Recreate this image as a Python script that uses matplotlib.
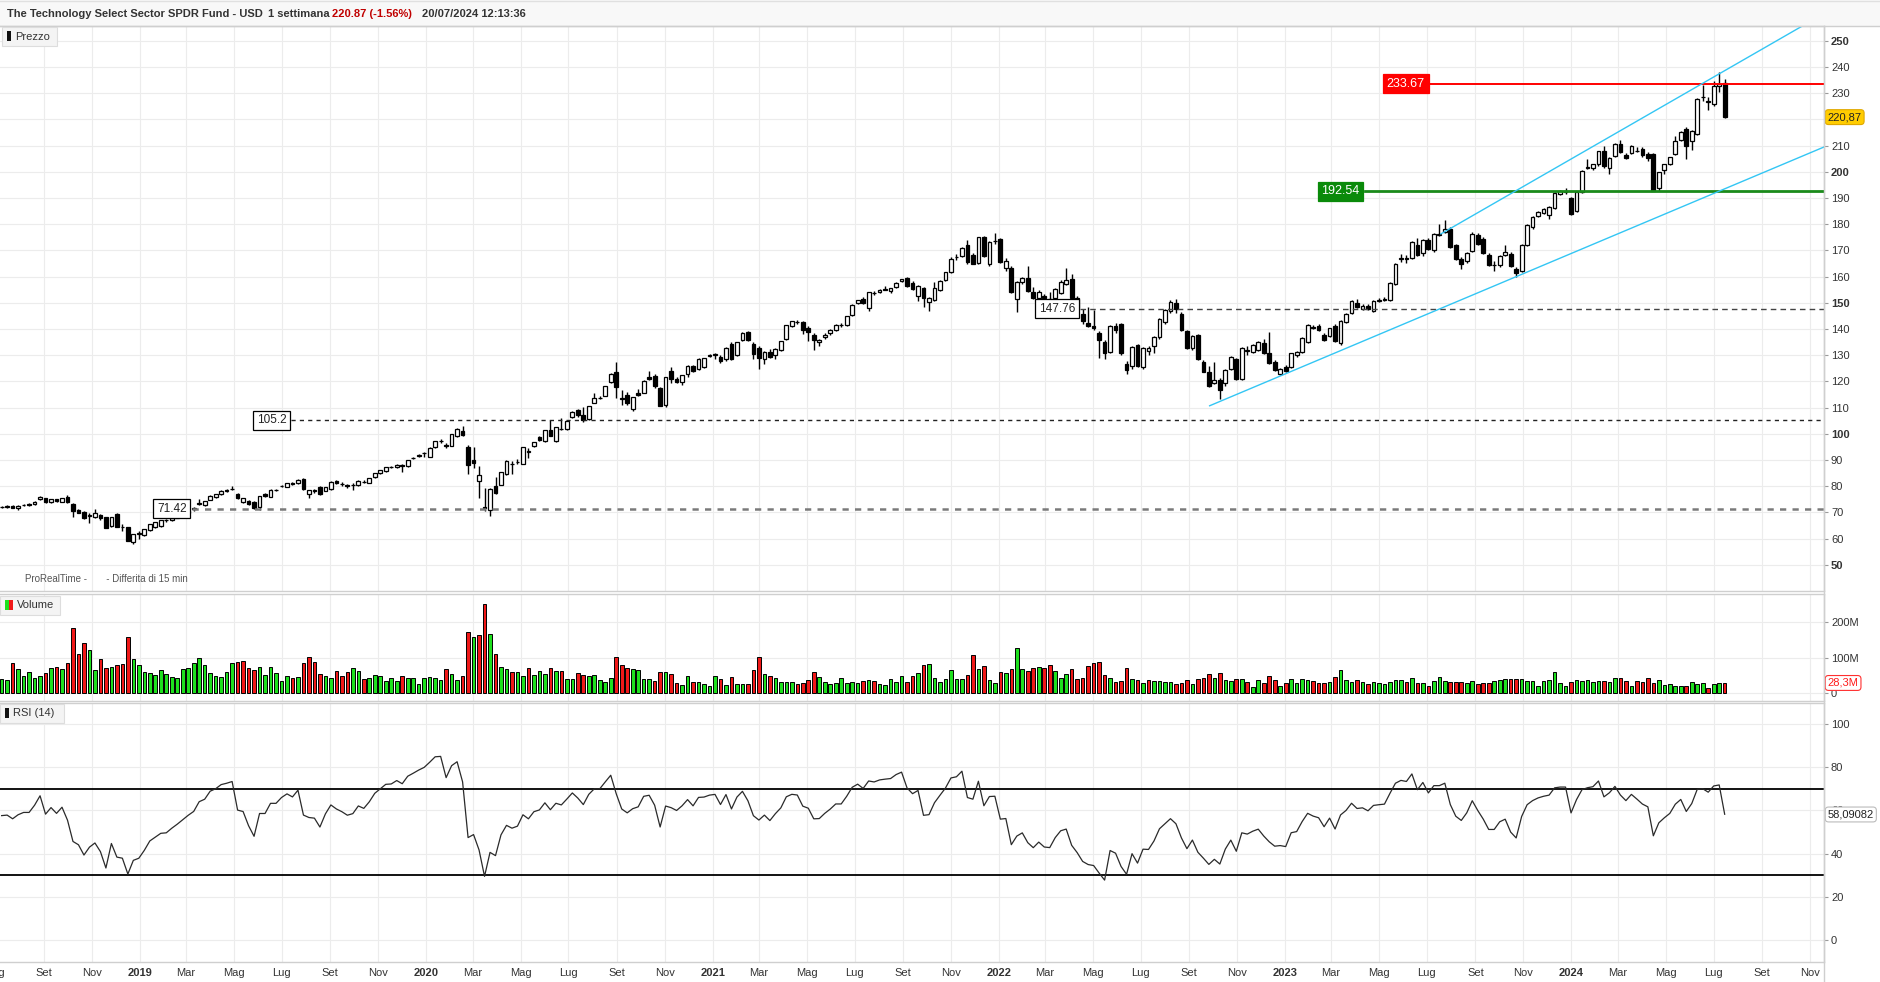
"""
Weekly candlestick chart of XLK with volume and RSI panels, ProRealTime style.
"""
from __future__ import annotations

import datetime as dt

import matplotlib

matplotlib.use("Agg")
import matplotlib.pyplot as plt
from matplotlib.lines import Line2D
from matplotlib.patches import Rectangle
from matplotlib.transforms import blended_transform_factory

plt.rcParams["font.family"] = ["Liberation Sans", "DejaVu Sans"]

W, H = 1880, 982
START = dt.date(2018, 7, 9)  # monday of the first weekly candle

OPENS = [
    72.0, 72.2, 72.5, 71.8, 72.8, 73.3, 73.3, 75.1, 75.4, 73.8,
    75.0, 74.1, 75.7, 73.3, 70.8, 70.3, 68.8, 68.4, 69.0, 68.1,
    64.8, 69.5, 64.4, 64.3, 58.6, 61.6, 61.4, 63.2, 64.6, 64.8,
    67.0, 67.1, 68.0, 68.8, 69.7, 71.8, 73.3, 72.8, 74.9, 75.7,
    76.9, 78.3, 78.8, 76.9, 74.1, 74.2, 74.0, 72.1, 76.9, 76.0,
    78.4, 80.0, 79.8, 81.3, 81.1, 82.6, 76.9, 78.2, 79.7, 78.3,
    78.8, 82.1, 80.8, 80.3, 80.4, 80.3, 81.6, 81.3, 83.4, 85.0,
    85.7, 87.2, 87.2, 88.0, 87.6, 90.6, 91.6, 92.6, 91.3, 94.8,
    97.2, 95.7, 95.4, 99.0, 101.1, 94.8, 90.1, 81.9, 72.0, 70.9,
    79.9, 80.6, 84.7, 88.6, 89.3, 88.6, 93.2, 95.4, 98.6, 97.3,
    101.3, 97.3, 101.8, 101.8, 106.5, 109.0, 107.0, 105.7, 111.9, 113.6,
    114.6, 119.6, 123.7, 113.5, 115.0, 109.6, 115.7, 115.7, 121.8, 122.0,
    117.3, 111.0, 124.0, 120.9, 119.9, 122.7, 125.9, 124.6, 125.5, 129.7,
    130.2, 129.4, 128.4, 134.3, 130.0, 135.8, 138.9, 134.4, 132.8, 128.7,
    131.3, 130.0, 131.9, 136.1, 141.1, 142.5, 142.7, 140.4, 137.8, 135.1,
    136.9, 138.6, 139.7, 141.4, 141.4, 145.4, 149.9, 151.5, 148.0, 153.6,
    154.2, 155.0, 154.4, 156.0, 158.2, 159.4, 157.6, 152.7, 155.5, 150.4,
    151.0, 154.8, 158.7, 161.6, 167.3, 167.9, 171.9, 168.2, 165.3, 175.2,
    164.8, 173.4, 174.2, 163.4, 163.4, 151.4, 158.0, 159.5, 154.2, 151.7,
    152.6, 151.0, 151.7, 153.8, 157.3, 159.0, 151.7, 145.9, 142.4, 141.3,
    138.3, 134.9, 131.3, 141.1, 141.9, 126.8, 125.8, 133.8, 125.6, 131.7,
    133.5, 137.0, 142.7, 146.8, 150.1, 145.9, 139.2, 132.8, 137.7, 127.5,
    123.4, 119.5, 120.7, 119.5, 124.9, 128.4, 121.1, 131.6, 131.3, 131.9,
    134.5, 130.9, 127.5, 123.0, 125.6, 125.6, 130.0, 131.3, 135.1, 140.6,
    141.1, 137.9, 137.4, 141.1, 134.5, 142.7, 146.2, 150.0, 147.8, 148.9,
    147.0, 150.8, 151.2, 151.0, 157.2, 166.8, 167.1, 167.1, 171.9, 169.0,
    173.9, 170.3, 176.0, 176.9, 178.2, 171.9, 166.7, 165.8, 169.7, 175.7,
    174.5, 168.1, 164.6, 164.3, 168.3, 168.5, 162.9, 162.3, 171.9, 178.8,
    183.1, 184.3, 183.7, 186.2, 191.6, 192.4, 190.0, 185.0, 192.3, 201.6,
    201.5, 202.8, 207.8, 201.5, 206.2, 210.6, 206.6, 207.2, 208.0, 208.7,
    206.8, 206.8, 193.8, 200.8, 203.1, 206.8, 212.0, 216.5, 211.6, 214.6,
    228.6, 226.5, 225.9, 232.9, 233.8,
]

HIGHS = [
    72.6, 72.7, 72.8, 72.7, 73.3, 73.6, 74.3, 76.1, 75.6, 75.2,
    75.3, 75.6, 76.5, 73.5, 71.3, 70.6, 69.9, 71.2, 69.4, 68.3,
    68.4, 69.8, 65.5, 64.6, 61.8, 62.8, 63.7, 65.6, 66.4, 67.2,
    67.5, 68.2, 69.0, 69.9, 70.9, 72.1, 75.0, 74.4, 76.5, 77.2,
    78.4, 78.9, 79.9, 77.3, 75.6, 74.6, 74.3, 76.3, 77.4, 78.8,
    79.0, 80.4, 81.3, 81.6, 82.7, 83.0, 78.7, 78.9, 80.2, 79.8,
    81.9, 82.4, 81.5, 81.0, 81.3, 82.2, 82.3, 83.2, 85.1, 86.3,
    87.4, 87.7, 88.4, 88.5, 90.1, 91.2, 92.2, 93.2, 94.8, 97.3,
    97.9, 96.6, 100.1, 102.1, 102.8, 95.6, 94.8, 87.6, 79.4, 79.2,
    83.5, 85.5, 89.9, 89.5, 90.2, 95.0, 94.4, 97.0, 99.2, 101.6,
    105.2, 102.7, 105.9, 105.2, 108.6, 109.6, 110.4, 110.7, 115.7, 114.3,
    118.3, 123.2, 127.5, 116.6, 115.8, 114.2, 117.2, 120.5, 124.1, 122.8,
    118.0, 121.7, 125.4, 121.6, 122.6, 126.1, 126.4, 128.9, 129.1, 130.5,
    130.9, 130.2, 133.0, 135.0, 135.2, 138.8, 139.3, 135.0, 133.5, 131.5,
    132.3, 132.7, 135.5, 141.6, 143.1, 143.4, 143.1, 141.0, 138.4, 136.3,
    138.3, 139.9, 141.8, 142.2, 145.0, 149.4, 151.2, 152.2, 154.2, 154.5,
    155.2, 156.3, 155.8, 157.8, 159.2, 160.0, 158.3, 156.7, 156.2, 152.3,
    158.0, 158.8, 161.8, 167.6, 168.8, 171.3, 174.0, 169.0, 175.3, 175.6,
    173.6, 176.8, 174.6, 167.0, 163.9, 158.3, 159.9, 163.9, 156.0, 155.0,
    153.5, 154.3, 155.5, 158.7, 163.4, 161.1, 152.5, 147.7, 148.5, 147.3,
    139.2, 135.7, 141.6, 142.3, 142.4, 127.9, 133.6, 134.4, 133.2, 133.6,
    137.4, 144.3, 147.6, 150.9, 151.6, 146.4, 139.7, 137.6, 138.1, 128.0,
    125.7, 127.5, 121.2, 124.6, 129.7, 129.0, 133.2, 133.6, 134.1, 135.4,
    136.2, 138.9, 128.3, 125.0, 126.2, 131.0, 131.6, 137.0, 141.8, 141.7,
    141.9, 138.6, 140.5, 141.8, 143.4, 146.2, 151.0, 151.5, 149.4, 149.4,
    151.1, 152.0, 152.3, 157.9, 165.1, 168.5, 168.4, 173.4, 174.9, 174.4,
    174.6, 176.6, 180.0, 181.5, 178.9, 172.5, 167.5, 169.5, 177.0, 176.8,
    175.2, 168.9, 166.1, 168.4, 172.0, 169.2, 163.5, 172.3, 180.0, 183.0,
    185.0, 186.2, 187.0, 192.3, 193.0, 193.8, 190.5, 192.6, 200.5, 205.0,
    203.1, 208.1, 210.0, 205.6, 210.9, 212.0, 207.2, 210.1, 209.3, 209.3,
    207.4, 207.2, 200.1, 203.1, 205.8, 213.6, 215.4, 217.0, 215.8, 228.1,
    233.0, 228.4, 234.5, 238.1, 235.5,
]

LOWS = [
    71.6, 71.7, 71.5, 70.9, 72.4, 72.6, 73.0, 74.9, 73.6, 73.4,
    74.1, 73.9, 73.6, 68.4, 69.6, 67.4, 66.1, 67.9, 67.1, 64.0,
    64.3, 64.4, 63.0, 58.9, 57.8, 59.7, 61.1, 62.9, 64.2, 64.6,
    66.5, 66.8, 67.7, 68.5, 69.3, 70.6, 72.9, 72.5, 74.7, 75.5,
    76.6, 77.9, 78.4, 75.2, 73.6, 73.0, 71.3, 70.8, 75.8, 75.8,
    78.0, 79.6, 79.6, 80.5, 80.9, 78.7, 75.6, 77.3, 76.8, 78.0,
    78.6, 80.9, 80.2, 79.5, 78.5, 80.1, 81.2, 81.1, 83.2, 84.8,
    85.5, 86.8, 87.0, 85.6, 87.4, 90.2, 91.2, 91.2, 91.1, 94.6,
    96.6, 94.5, 95.2, 98.8, 99.2, 84.8, 87.1, 75.4, 70.5, 68.7,
    77.0, 80.3, 84.4, 84.7, 88.3, 88.4, 90.9, 95.1, 97.4, 97.0,
    99.0, 97.0, 101.4, 101.5, 106.2, 106.4, 104.6, 105.4, 111.6, 113.2,
    114.4, 119.3, 113.5, 110.9, 111.0, 108.6, 114.3, 115.4, 120.5, 117.6,
    110.5, 110.3, 119.5, 119.3, 118.6, 121.8, 123.4, 124.3, 125.2, 129.3,
    128.5, 127.2, 127.8, 128.2, 129.6, 135.5, 135.3, 128.7, 124.8, 126.5,
    129.0, 128.5, 131.5, 135.8, 140.8, 141.9, 138.2, 135.3, 131.8, 133.4,
    136.0, 137.8, 139.3, 140.9, 141.0, 145.0, 149.4, 149.4, 146.8, 153.0,
    153.6, 154.7, 153.6, 155.7, 157.9, 156.0, 155.0, 150.6, 148.5, 146.9,
    150.6, 154.4, 158.3, 161.2, 166.5, 167.4, 164.8, 164.7, 164.9, 167.5,
    164.2, 172.6, 165.3, 162.0, 153.8, 146.6, 157.2, 154.2, 151.4, 146.5,
    146.8, 146.4, 146.6, 153.2, 156.9, 151.3, 147.0, 141.8, 140.6, 139.5,
    128.8, 128.4, 130.8, 138.4, 130.2, 123.0, 124.8, 125.4, 124.6, 130.2,
    130.7, 136.3, 141.8, 146.2, 146.2, 139.4, 132.3, 132.0, 128.1, 123.4,
    117.9, 119.0, 113.2, 118.4, 124.5, 120.6, 120.4, 130.1, 130.9, 131.6,
    130.5, 126.8, 123.9, 122.4, 123.6, 125.2, 129.5, 130.8, 134.7, 139.9,
    139.1, 135.4, 136.8, 134.9, 134.0, 142.3, 145.8, 148.0, 147.2, 147.3,
    146.6, 150.3, 150.5, 150.6, 156.8, 165.7, 165.3, 166.7, 167.9, 168.0,
    170.2, 169.5, 175.6, 176.5, 170.8, 166.3, 163.0, 165.2, 169.3, 172.1,
    168.6, 163.9, 162.0, 163.8, 168.0, 163.5, 160.0, 161.8, 171.5, 178.3,
    182.6, 183.8, 182.0, 185.8, 191.2, 191.5, 183.4, 184.6, 191.9, 200.9,
    200.8, 202.4, 201.6, 199.0, 205.8, 207.0, 204.8, 206.8, 207.5, 205.8,
    204.2, 192.5, 192.8, 199.0, 202.7, 206.4, 211.6, 205.0, 208.5, 214.2,
    226.9, 223.7, 225.2, 230.6, 220.6,
]

CLOSES = [
    72.2, 72.3, 71.8, 72.5, 72.9, 72.9, 74.1, 75.9, 73.8, 75.0,
    74.3, 75.4, 73.8, 70.5, 69.9, 67.9, 69.0, 69.6, 68.0, 64.2,
    68.1, 64.6, 64.3, 59.1, 61.6, 62.0, 63.5, 65.4, 66.2, 67.0,
    67.1, 68.0, 68.8, 69.7, 70.6, 71.4, 73.6, 74.2, 76.3, 77.0,
    78.2, 78.6, 79.1, 75.6, 75.4, 73.3, 71.5, 76.1, 76.1, 78.6,
    78.6, 80.1, 81.1, 80.7, 82.5, 78.9, 78.5, 78.4, 77.0, 79.6,
    81.7, 81.1, 80.7, 80.2, 80.5, 82.0, 81.7, 83.0, 84.9, 86.0,
    87.2, 87.3, 88.2, 87.9, 89.9, 90.8, 91.8, 92.7, 94.6, 97.1,
    97.3, 95.3, 99.9, 101.9, 99.4, 88.2, 89.0, 84.2, 71.5, 79.0,
    77.3, 85.3, 89.7, 88.5, 89.4, 94.8, 93.3, 96.8, 97.7, 101.4,
    99.2, 102.5, 102.0, 105.0, 108.4, 107.0, 105.2, 110.5, 113.8, 113.8,
    118.1, 123.0, 118.0, 113.2, 111.9, 113.9, 114.8, 120.3, 120.9, 118.1,
    110.8, 121.5, 120.9, 119.9, 122.4, 125.9, 123.9, 128.7, 128.9, 130.0,
    130.4, 127.7, 132.8, 128.6, 135.0, 138.6, 135.7, 130.6, 129.0, 131.3,
    129.4, 132.5, 135.3, 141.4, 142.9, 142.7, 139.5, 138.9, 135.7, 135.8,
    137.8, 139.5, 141.6, 141.6, 144.8, 149.2, 150.9, 150.0, 154.0, 153.8,
    154.9, 155.3, 155.6, 157.6, 158.9, 156.3, 155.3, 156.5, 151.7, 151.9,
    155.7, 158.5, 161.6, 166.9, 167.6, 171.1, 165.4, 165.0, 175.0, 167.9,
    173.3, 173.5, 165.6, 165.9, 154.1, 158.0, 159.5, 154.6, 151.9, 154.2,
    151.7, 151.4, 155.2, 158.0, 158.7, 151.7, 148.0, 143.0, 141.1, 140.5,
    135.8, 130.7, 141.2, 139.6, 130.7, 124.3, 133.2, 125.8, 132.8, 132.6,
    137.0, 144.0, 147.2, 150.4, 147.8, 139.8, 132.6, 137.3, 128.5, 123.7,
    118.2, 120.7, 116.7, 124.3, 129.4, 121.1, 132.8, 131.9, 133.8, 135.1,
    130.9, 127.2, 124.3, 124.6, 124.0, 130.7, 131.3, 136.6, 141.5, 140.3,
    139.6, 135.8, 140.2, 135.4, 143.1, 145.9, 150.6, 148.5, 148.9, 147.8,
    150.8, 151.2, 151.5, 157.6, 164.8, 167.1, 166.8, 173.1, 168.4, 174.1,
    170.7, 176.3, 176.3, 178.2, 171.2, 166.7, 165.0, 169.0, 176.4, 172.6,
    169.0, 164.3, 164.3, 168.0, 169.3, 163.9, 161.2, 171.9, 179.6, 182.6,
    184.6, 185.8, 186.6, 192.0, 192.6, 192.6, 183.9, 192.3, 200.2, 201.9,
    202.8, 207.8, 202.1, 205.3, 210.6, 207.4, 205.3, 209.8, 208.1, 206.3,
    205.3, 192.8, 199.8, 202.8, 205.5, 211.6, 215.1, 210.0, 215.5, 227.8,
    228.4, 227.0, 232.7, 233.67, 220.87,
]

# weekly volume, millions of shares
VOLUMES_M = [
    40,
    37, 84, 67, 49, 59, 42, 49, 56, 70, 73,
    67, 84, 182, 110, 140, 121, 65, 95, 70, 73,
    78, 81, 157, 95, 79, 59, 56, 50, 64, 53,
    45, 42, 67, 70, 84, 98, 79, 56, 49, 45,
    59, 84, 87, 91, 70, 64, 73, 50, 73, 56,
    34, 48, 42, 45, 84, 101, 87, 53, 48, 42,
    62, 48, 59, 70, 62, 39, 42, 50, 48, 34,
    42, 34, 48, 42, 42, 25, 42, 45, 42, 36,
    67, 53, 36, 48, 171, 157, 164, 252, 166, 109,
    73, 67, 59, 59, 48, 70, 50, 62, 54, 70,
    62, 62, 39, 39, 56, 50, 48, 50, 36, 31,
    42, 101, 79, 70, 67, 64, 39, 39, 34, 59,
    59, 53, 28, 22, 48, 31, 31, 25, 20, 48,
    39, 22, 45, 25, 25, 25, 64, 101, 53, 48,
    42, 31, 31, 31, 25, 28, 36, 59, 45, 31,
    25, 28, 42, 28, 31, 28, 34, 36, 34, 25,
    22, 39, 31, 48, 31, 48, 56, 79, 82, 42,
    30, 39, 64, 39, 39, 50, 107, 67, 76, 36,
    28, 59, 56, 67, 126, 67, 62, 70, 73, 70,
    79, 62, 42, 53, 67, 39, 42, 76, 84, 87,
    50, 42, 31, 34, 70, 39, 36, 28, 36, 34,
    34, 31, 31, 25, 28, 36, 25, 39, 42, 53,
    42, 56, 36, 34, 39, 39, 31, 17, 36, 28,
    48, 36, 19, 28, 39, 28, 39, 36, 34, 28,
    28, 31, 45, 64, 36, 31, 36, 31, 25, 31,
    28, 25, 31, 36, 36, 31, 42, 28, 28, 20,
    34, 45, 34, 31, 31, 31, 28, 34, 25, 28,
    28, 34, 36, 39, 39, 39, 39, 34, 34, 20,
    34, 36, 59, 28, 20, 31, 36, 34, 36, 31,
    34, 34, 31, 42, 42, 34, 20, 34, 31, 42,
    28, 36, 22, 25, 20, 20, 20, 31, 25, 28,
    13, 25, 28, 28.3,
]

# weekly closes before the first candle, only used to warm up the RSI
WARMUP_CLOSES = [
    68.1, 68.9, 70.6, 68.0, 64.6, 67.9, 69.1, 67.7, 70.5, 70.3,
    65.7, 65.4, 64.4, 66.1, 67.0, 66.9, 68.5, 70.0, 69.3, 70.2,
    70.4, 71.8, 72.2, 71.0, 69.7, 71.4,
]

PRICE_TICKS = list(range(50, 251, 10))
VOLUME_TICKS = [0, 100, 200]
RSI_TICKS = [0, 20, 40, 60, 80, 100]
RSI_BANDS = [30, 70]
MONTH_NAMES = {3: "Mar", 5: "Mag", 7: "Lug", 9: "Set", 11: "Nov"}

LEVEL_PRICES = [71.42, 105.2, 147.76]
SUPPORT_PRICE = 192.54
RESISTANCE_PRICE = 233.67
LAST_PRICE = 220.87
LAST_VOLUME_M = 28.3
LAST_RSI = 58.09082

CHANNEL_LOW_DATES = [dt.date(2022, 9, 27), dt.date(2024, 7, 15)]
CHANNEL_LOW_PRICES = [110.7, 193.5]
CHANNEL_HIGH_DATES = [dt.date(2023, 7, 19), dt.date(2024, 7, 15)]
CHANNEL_HIGH_PRICES = [176.3, 238.6]

XMIN, XMAX = -0.30, 332.1
GRID = "#ececec"
BORDER = "#cfcfcf"
TEXT = "#333333"


def fx(px: float) -> float:
    return px / W


def fy(py: float) -> float:
    return 1 - py / H


def week_index(day: dt.date) -> float:
    return (day - START).days / 7.0


def month_ticks() -> list[tuple[float, str, bool]]:
    out = []
    year, month = 2018, 7
    while (year, month) <= (2024, 11):
        day = dt.date(year, month, 1)
        if month == 1:
            out.append((week_index(day), str(year), True))
        else:
            out.append((week_index(day), MONTH_NAMES[month], False))
        month += 2
        if month > 12:
            month -= 12
            year += 1
    return out


def wilder_rsi(closes: list[float], period: int = 14) -> list[float | None]:
    out: list[float | None] = [None] * len(closes)
    gains = [max(b - a, 0.0) for a, b in zip(closes[:-1], closes[1:])]
    losses = [max(a - b, 0.0) for a, b in zip(closes[:-1], closes[1:])]
    avg_gain = sum(gains[:period]) / period
    avg_loss = sum(losses[:period]) / period
    out[period] = 100 - 100 / (1 + avg_gain / avg_loss)
    for i in range(period, len(gains)):
        avg_gain = (avg_gain * (period - 1) + gains[i]) / period
        avg_loss = (avg_loss * (period - 1) + losses[i]) / period
        out[i + 1] = 100 - 100 / (1 + avg_gain / avg_loss) if avg_loss else 100.0
    return out


def style_panel(ax, ticks, labels, ylim) -> None:
    ax.set_xlim(XMIN, XMAX)
    ax.set_ylim(*ylim)
    ax.spines["left"].set_visible(False)
    for side in ("top", "bottom", "right"):
        ax.spines[side].set_color(BORDER)
        ax.spines[side].set_linewidth(1.0)
    ax.yaxis.tick_right()
    ax.set_yticks(ticks)
    ax.set_yticklabels(labels)
    ax.tick_params(axis="y", direction="out", length=3, width=0.8, color="#9a9a9a",
                   labelsize=8, labelcolor=TEXT, pad=2)
    ax.tick_params(axis="x", bottom=False, labelbottom=False)
    for t in ticks:
        ax.axhline(t, color=GRID, lw=0.8, zorder=0)
    for pos, _, _ in month_ticks():
        ax.axvline(pos, color=GRID, lw=0.8, zorder=0)


def level_box(ax, x, y, text, fc="white", ec="black", color="#222222", size=8.5) -> None:
    ax.text(x, y, text, ha="center", va="center", fontsize=size, color=color, zorder=8,
            bbox=dict(boxstyle="square,pad=0.3", fc=fc, ec=ec, lw=0.9))


def axis_tag(ax, y, text, fc, ec, color) -> None:
    ax.text(1.002, y, text, transform=ax.get_yaxis_transform(), ha="left", va="center",
            fontsize=8, color=color, zorder=10, clip_on=False,
            bbox=dict(boxstyle="round,pad=0.22,rounding_size=0.3", fc=fc, ec=ec, lw=0.8))


def panel_legend(fig, x0, y0, w, h, label, icons) -> None:
    fig.add_artist(Rectangle((fx(x0), fy(y0 + h)), w / W, h / H, transform=fig.transFigure,
                             fc="#f4f4f4", ec="#dddddd", lw=0.8, zorder=20))
    ix = x0 + 5
    for color in icons:
        fig.add_artist(Rectangle((fx(ix), fy(y0 + h - 5)), 4 / W, (h - 9) / H,
                                 transform=fig.transFigure, fc=color, ec="none", zorder=21))
        ix += 4
    fig.text(fx(ix + 4), fy(y0 + h / 2), label, fontsize=8, color=TEXT,
             va="center", ha="left", zorder=22)


def draw_price(ax) -> None:
    x = list(range(len(CLOSES)))
    bottoms = [min(o, c) for o, c in zip(OPENS, CLOSES)]
    heights = [max(abs(c - o), 0.12) for o, c in zip(OPENS, CLOSES)]
    faces = ["white" if c >= o else "black" for o, c in zip(OPENS, CLOSES)]
    ax.vlines(x, LOWS, HIGHS, color="black", lw=1.0, zorder=2)
    ax.bar(x, heights, width=0.68, bottom=bottoms, color=faces, edgecolor="black",
           linewidth=0.9, zorder=3)

    # horizontal levels with their boxes
    box_x = [31.0, 49.2, 192.3]
    line_from = [34.7, 52.7, 196.5]
    styles = [dict(color="#7a7a7a", lw=1.8, dashes=(2.5, 2.5)),
              dict(color="#222222", lw=1.0, dashes=(3, 3)),
              dict(color="#444444", lw=1.0, dashes=(4, 3))]
    for price, bx, x0, st in zip(LEVEL_PRICES, box_x, line_from, styles):
        ax.plot([x0, XMAX], [price, price], zorder=4, **st)
        level_box(ax, bx, price, f"{price:g}")

    ax.plot([248.5, XMAX], [SUPPORT_PRICE] * 2, color="#1a8a1a", lw=2.0, zorder=4)
    level_box(ax, 244.0, SUPPORT_PRICE, f"{SUPPORT_PRICE:.2f}", fc="#0a8a0a", ec="#0a8a0a",
              color="white", size=9)
    ax.plot([260.3, XMAX], [RESISTANCE_PRICE] * 2, color="#ff0000", lw=1.4, zorder=4)
    level_box(ax, 255.9, RESISTANCE_PRICE, f"{RESISTANCE_PRICE:.2f}", fc="#ff0000", ec="#ff0000",
              color="white", size=9)

    # trend channel
    for dates, prices in ((CHANNEL_LOW_DATES, CHANNEL_LOW_PRICES),
                          (CHANNEL_HIGH_DATES, CHANNEL_HIGH_PRICES)):
        x0, x1 = week_index(dates[0]), week_index(dates[1])
        slope = (prices[1] - prices[0]) / (x1 - x0)
        ax.plot([x0, XMAX], [prices[0], prices[0] + slope * (XMAX - x0)],
                color="#33c6f4", lw=1.0, zorder=5)

    labels = [str(t) for t in PRICE_TICKS]
    style_panel(ax, PRICE_TICKS, labels, (40.0, 255.65))
    for lbl, t in zip(ax.get_yticklabels(), PRICE_TICKS):
        if t % 50 == 0:
            lbl.set_fontweight("bold")
    axis_tag(ax, LAST_PRICE, f"{LAST_PRICE:.2f}".replace(".", ","), "#ffcc00", "#e0a800", "#222222")


def draw_volume(ax) -> None:
    x = list(range(len(VOLUMES_M)))
    prev = [WARMUP_CLOSES[-1]] + CLOSES[:-1]
    colors = ["#1ee01e" if c >= p else "#f01818" for c, p in zip(CLOSES, prev)]
    ax.bar(x, VOLUMES_M, width=0.66, color=colors, edgecolor="black", linewidth=0.7, zorder=3)
    style_panel(ax, VOLUME_TICKS, ["0", "100M", "200M"], (-22.5, 279.0))
    axis_tag(ax, LAST_VOLUME_M, f"{LAST_VOLUME_M:.1f}M".replace(".", ","), "white", "#ff3030", "#ff1a1a")


def draw_rsi(ax) -> None:
    rsi = wilder_rsi(WARMUP_CLOSES + CLOSES)[len(WARMUP_CLOSES):]
    ax.plot(range(len(rsi)), rsi, color="#2a2a2a", lw=0.9, zorder=3)
    for band in RSI_BANDS:
        ax.axhline(band, color="black", lw=1.3, zorder=2)
    style_panel(ax, RSI_TICKS, [str(t) for t in RSI_TICKS], (-10.2, 109.7))
    axis_tag(ax, LAST_RSI, f"{LAST_RSI:.5f}".replace(".", ","), "white", "#bbbbbb", "#222222")

    trans = blended_transform_factory(ax.transData, ax.transAxes)
    for pos, text, is_year in month_ticks():
        ax.text(pos, -11 / 259, text, transform=trans, ha="center", va="center", fontsize=8,
                color=TEXT, fontweight="bold" if is_year else "normal", clip_on=False)


def draw_header(fig) -> None:
    fig.add_artist(Rectangle((0, fy(26)), 1, 26 / H, transform=fig.transFigure,
                             fc="#f8f8f8", ec="none", zorder=0))
    fig.add_artist(Line2D([0, 1], [fy(26), fy(26)], transform=fig.transFigure, color=BORDER, lw=1))
    fig.add_artist(Line2D([0, 1], [fy(1), fy(1)], transform=fig.transFigure, color="#e0e0e0", lw=1))
    yy = fy(14)
    fig.text(fx(7), yy, "The Technology Select Sector SPDR Fund - USD", fontsize=8,
             fontweight="bold", color=TEXT, va="center")
    fig.text(fx(268), yy, "1 settimana", fontsize=8, fontweight="bold", color=TEXT, va="center")
    fig.text(fx(332), yy, "220.87 (-1.56%)", fontsize=8, fontweight="bold", color="#c00000",
             va="center")
    fig.text(fx(422), yy, "20/07/2024 12:13:36", fontsize=8, fontweight="bold", color=TEXT,
             va="center")


def main() -> None:
    fig = plt.figure(figsize=(W / 100, H / 100), dpi=100)
    fig.patch.set_facecolor("white")
    width = 1824 / W
    ax_p = fig.add_axes([0, fy(591), width, 565 / H])
    ax_v = fig.add_axes([0, fy(701), width, 107 / H])
    ax_r = fig.add_axes([0, fy(962), width, 259 / H])

    draw_header(fig)
    draw_price(ax_p)
    draw_volume(ax_v)
    draw_rsi(ax_r)

    fig.add_artist(Line2D([fx(1824)] * 2, [0, fy(26)], transform=fig.transFigure, color=BORDER, lw=1))
    panel_legend(fig, 2, 27, 55, 19, "Prezzo", ["#111111"])
    panel_legend(fig, 0, 596, 60, 19, "Volume", ["#1ee01e", "#f01818"])
    panel_legend(fig, 0, 704, 64, 19, "RSI (14)", ["#111111"])
    fig.text(fx(25), fy(579), "ProRealTime -       - Differita di 15 min", fontsize=7,
             color="#555555", va="center")

    fig.savefig("out.png", dpi=100)
    plt.close(fig)


if __name__ == "__main__":
    main()
